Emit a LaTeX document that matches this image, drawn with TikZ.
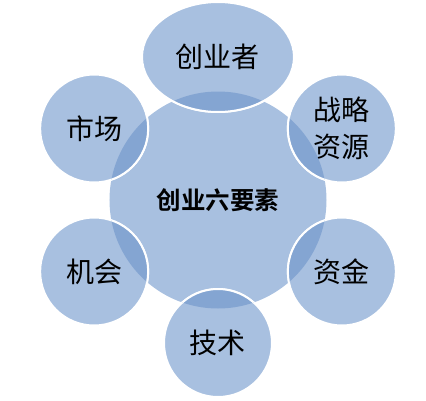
\documentclass[tikz,border=0pt]{standalone}
\usepackage{fontspec}
\usetikzlibrary{shapes.geometric,positioning}
\newfontfamily\cjk{Noto Sans CJK SC}
\newfontfamily\cjkbold{Noto Sans CJK SC Bold}
\definecolor{pale}{HTML}{A8C0E0}
\definecolor{deep}{HTML}{84A5D2}

\begin{document}
\begin{tikzpicture}[x=1pt,y=1pt,
                hub/.style={circle,fill=pale,minimum size=217pt,inner sep=0pt,
                            font=\cjkbold\fontsize{24.5}{28}\selectfont},
                sat/.style={circle,fill=pale,draw=white,line width=2pt,
                            minimum size=108pt,inner sep=0pt,align=center,
                            font=\cjk\fontsize{28}{37}\selectfont},
                lens/.style={fill=deep,draw=white,line width=2pt}]
            \useasboundingbox (-218,-200) rectangle (208,200);
            \node [hub]  (hub)  at (0,0)       {创业六要素};
            \node [sat,ellipse,minimum width=152pt,minimum height=110pt]
                         (who)  at (90:143)    {创业者};
            \node [sat]  (res)  at (30:143)    {战略\\资源};
            \node [sat]  (cash) at (-30:143)   {资金};
            \node [sat]  (tech) at (-90:143)   {技术};
            \node [sat]  (odd)  at (-150:143)  {机会};
            \node [sat]  (mkt)  at (150:143)   {市场};

            % overlaps of the hub with each satellite
            \begin{scope}
            \clip (hub.center) circle (108.5);
            \path [lens] (who.center) ellipse (76 and 55);
            \path [lens] (res.center)  circle (54);
            \path [lens] (cash.center) circle (54);
            \path [lens] (tech.center) circle (54);
            \path [lens] (odd.center)  circle (54);
            \path [lens] (mkt.center)  circle (54);
            \end{scope}
        \end{tikzpicture}
\end{document}
